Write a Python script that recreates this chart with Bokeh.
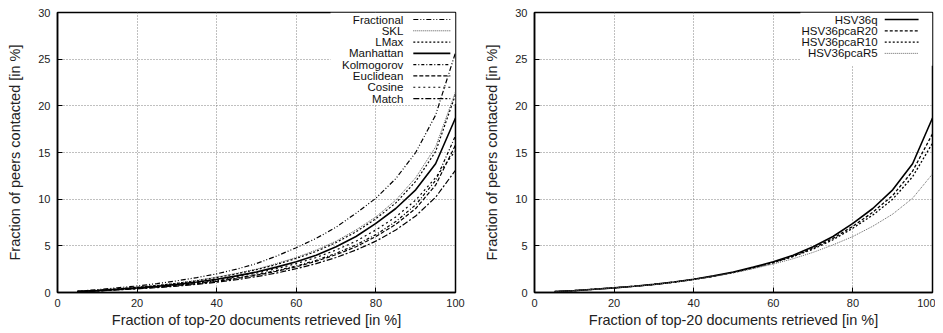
from bokeh.plotting import figure
from bokeh.layouts import row
from bokeh.models import FixedTicker, Range1d
from bokeh.embed import file_html
from bokeh.resources import INLINE
from bokeh.core.properties import value

# ---------------- data ----------------
x_vals = [5, 10, 15, 20, 25, 30, 35, 40, 45, 50, 55, 60, 65, 70, 75, 80, 85, 90, 95, 100]

fractional = [0.15, 0.3, 0.5, 0.7, 0.95, 1.25, 1.6, 2.0, 2.5, 3.1, 3.9, 4.8, 5.8, 7.0, 8.5, 10.1, 12.2, 15.0, 19.0, 25.7]
skl        = [0.12, 0.25, 0.4, 0.58, 0.77, 1.0, 1.3, 1.65, 2.05, 2.5, 3.1, 3.75, 4.55, 5.5, 6.7, 8.1, 9.9, 12.3, 15.6, 21.5]
lmax       = [0.12, 0.24, 0.39, 0.56, 0.75, 0.97, 1.25, 1.6, 2.0, 2.45, 3.0, 3.65, 4.4, 5.35, 6.5, 7.9, 9.6, 11.9, 15.1, 21.2]
manhattan  = [0.1, 0.2, 0.35, 0.5, 0.67, 0.87, 1.12, 1.42, 1.78, 2.2, 2.72, 3.3, 4.0, 4.9, 6.0, 7.4, 9.0, 11.0, 13.8, 18.7]
kolmogorov = [0.09, 0.18, 0.31, 0.45, 0.59, 0.77, 0.98, 1.25, 1.55, 1.9, 2.35, 2.85, 3.45, 4.2, 5.1, 6.2, 7.6, 9.4, 12.0, 16.8]
euclidean  = [0.09, 0.18, 0.3, 0.43, 0.57, 0.74, 0.95, 1.2, 1.5, 1.85, 2.28, 2.75, 3.35, 4.05, 4.9, 6.0, 7.3, 9.0, 11.5, 15.8]
cosine     = [0.1, 0.2, 0.34, 0.48, 0.64, 0.83, 1.06, 1.35, 1.68, 2.07, 2.55, 3.1, 3.75, 4.55, 5.5, 6.7, 8.1, 9.9, 12.3, 15.2]
match      = [0.08, 0.16, 0.27, 0.39, 0.52, 0.68, 0.87, 1.1, 1.37, 1.7, 2.08, 2.55, 3.1, 3.75, 4.55, 5.5, 6.7, 8.2, 10.2, 13.1]

hsv36q      = [0.1, 0.2, 0.35, 0.5, 0.67, 0.87, 1.12, 1.42, 1.78, 2.2, 2.72, 3.3, 4.0, 4.9, 6.0, 7.4, 9.0, 11.0, 13.8, 18.7]
hsv36pcaR20 = [0.1, 0.2, 0.35, 0.5, 0.66, 0.86, 1.1, 1.4, 1.75, 2.16, 2.66, 3.22, 3.9, 4.75, 5.8, 7.1, 8.6, 10.4, 13.0, 17.0]
hsv36pcaR10 = [0.1, 0.2, 0.35, 0.5, 0.66, 0.86, 1.1, 1.4, 1.74, 2.14, 2.63, 3.18, 3.85, 4.65, 5.65, 6.9, 8.3, 10.0, 12.4, 16.0]
hsv36pcaR5  = [0.1, 0.2, 0.35, 0.5, 0.66, 0.85, 1.09, 1.38, 1.72, 2.1, 2.56, 3.05, 3.62, 4.3, 5.1, 6.0, 7.1, 8.4, 10.1, 12.7]

x_ticks = [0, 20, 40, 60, 80, 100]
y_ticks = [0, 5, 10, 15, 20, 25, 30]

left_series = [
    ("Fractional", fractional, "black", 1.2, "5 2 1 2 1 2"),
    ("SKL", skl, "#555555", 1.0, "1 1"),
    ("LMax", lmax, "black", 1.2, "2 2"),
    ("Manhattan", manhattan, "black", 1.6, "solid"),
    ("Kolmogorov", kolmogorov, "black", 1.2, "3 2 1 2"),
    ("Euclidean", euclidean, "black", 1.2, "4 2"),
    ("Cosine", cosine, "black", 1.2, "2 3"),
    ("Match", match, "black", 1.2, "6 2 2 2"),
]
right_series = [
    ("HSV36q", hsv36q, "black", 1.6, "solid"),
    ("HSV36pcaR20", hsv36pcaR20, "black", 1.3, "3 2"),
    ("HSV36pcaR10", hsv36pcaR10, "black", 1.3, "2 2"),
    ("HSV36pcaR5", hsv36pcaR5, "#666666", 1.0, "1 1"),
]

FONT = "Liberation Sans"


def make_fig(series, key_box, border_left, border_right):
    p = figure(frame_width=398, frame_height=280,
               x_range=Range1d(0, 100), y_range=Range1d(0, 30),
               output_backend="svg", toolbar_location=None,
               min_border_left=border_left, min_border_right=border_right,
               min_border_top=12, min_border_bottom=38)
    p.outline_line_color = "black"
    p.outline_line_width = 1.5
    p.background_fill_color = "white"
    p.border_fill_color = "white"

    for ax in (p.xaxis[0], p.yaxis[0]):
        ax.major_tick_in = 5
        ax.major_tick_out = 0
        ax.minor_tick_line_color = None
        ax.axis_line_color = "black"
        ax.axis_line_width = 1.5
        ax.major_label_text_font = FONT
        ax.major_label_text_font_size = "11px"
        ax.major_label_text_color = "#222222"
        ax.axis_label_text_font = FONT
        ax.axis_label_text_font_size = "14.5px"
        ax.axis_label_text_font_style = "normal"
        ax.axis_label_text_color = "#222222"
    p.xaxis[0].major_label_standoff = 6
    p.yaxis[0].major_label_standoff = 7
    p.xaxis[0].ticker = FixedTicker(ticks=x_ticks)
    p.yaxis[0].ticker = FixedTicker(ticks=y_ticks)
    p.xaxis[0].axis_label = "Fraction of top-20 documents retrieved [in %]"
    p.yaxis[0].axis_label = "Fraction of peers contacted [in %]"
    p.xaxis[0].axis_label_standoff = 2
    p.yaxis[0].axis_label_standoff = 12

    for g in (p.xgrid[0], p.ygrid[0]):
        g.grid_line_color = "#808080"
        g.grid_line_dash = "1 2"
        g.grid_line_width = 1
    p.xgrid[0].ticker = FixedTicker(ticks=x_ticks)
    p.ygrid[0].ticker = FixedTicker(ticks=y_ticks)

    # key area: hides grid lines
    p.quad(left=[key_box[0]], right=[100], bottom=[key_box[1]], top=[30],
           fill_color="white", line_color=None)

    row_h = 1.21
    top_y = 29.25
    label_x = key_box[2]
    seg0, seg1 = key_box[3], key_box[4]
    for i, (name, ys, color, lw, dash) in enumerate(series):
        p.line(x_vals, ys, line_color=color, line_width=lw, line_dash=dash)
        yy = top_y - i * row_h
        p.text(x=[label_x], y=[yy], text=[name], text_align="right",
               text_baseline="middle", text_font=value(FONT),
               text_font_size="11.5px", text_color="#111111")
        p.segment(x0=[seg0], y0=[yy], x1=[seg1], y1=[yy],
                  line_color=color, line_width=lw, line_dash=dash)
    return p


p1 = make_fig(left_series, (68.6, 20.2, 86.9, 89.4, 98.7), 57, 23)
p2 = make_fig(right_series, (66.8, 24.3, 86.2, 88.0, 96.5), 56, 3)

layout = row(p1, p2)
open("out.html", "w").write(file_html(layout, INLINE))
